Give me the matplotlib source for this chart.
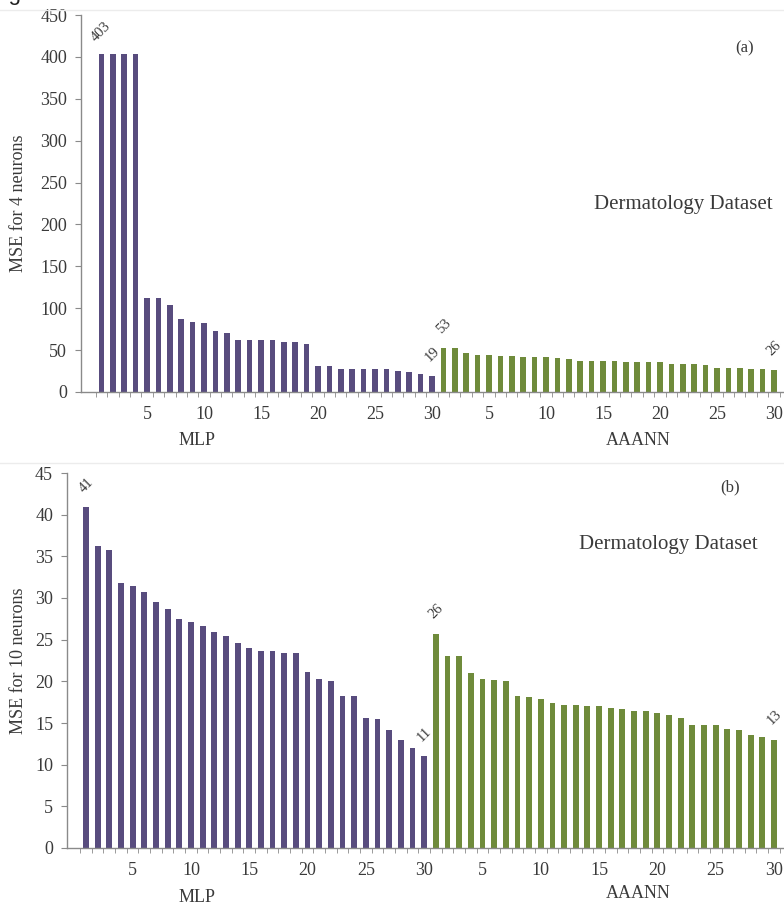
import matplotlib
matplotlib.use("Agg")
import matplotlib.pyplot as plt
from matplotlib.lines import Line2D

# MSE values (30 MLP runs followed by 30 AAANN runs)
mlp_4 = [403, 403, 403, 403, 112, 112, 104, 87, 84, 82,
         72.5, 70.5, 62, 62, 62, 62, 60, 60, 57, 31,
         31, 28, 28, 28, 28, 27.5, 25, 24, 21.5, 19]
aaann_4 = [52, 52, 47, 44, 44, 43, 43, 42, 42, 42,
           40, 39.4, 37.5, 37.5, 37, 36.5, 36, 35.8, 35.5, 35.5,
           34, 34, 33.5, 32.7, 29, 28.5, 28.5, 28, 27, 26]
mlp_10 = [40.9, 36.3, 35.8, 31.8, 31.5, 30.7, 29.5, 28.7, 27.5, 27.1,
          26.7, 25.9, 25.4, 24.6, 24.0, 23.7, 23.7, 23.4, 23.4, 21.1,
          20.3, 20.1, 18.3, 18.2, 15.6, 15.5, 14.2, 13.0, 12.0, 11.0]
aaann_10 = [25.7, 23.0, 23.0, 21.0, 20.3, 20.2, 20.0, 18.3, 18.1, 17.9,
            17.4, 17.2, 17.2, 17.1, 17.0, 16.8, 16.7, 16.5, 16.4, 16.2,
            16.0, 15.6, 14.8, 14.8, 14.8, 14.3, 14.2, 13.6, 13.3, 13.0]

tick_pos = [5, 10, 15, 20, 25, 30, 35, 40, 45, 50, 55, 60]
tick_text = ['5', '10', '15', '20', '25', '30', '5', '10', '15', '20', '25', '30']

note_idx = [0, 29, 30, 59]
notes_4 = ['403', '19', '53', '26']
notes_10 = ['41', '11', '26', '13']

purple = '#584c7e'
green = '#6f8b3b'
text_col = '#3a3a3a'
axis_col = '#8a8a8a'

plt.rcParams['font.family'] = ['Liberation Serif', 'DejaVu Serif']
plt.rcParams['text.color'] = text_col


def draw_panel(ax, mlp, aaann, notes, ylim, ystep, ylabel, xlim):
    n = len(mlp)
    xs_mlp = list(range(1, n + 1))
    xs_aaann = list(range(n + 1, 2 * n + 1))
    ax.bar(xs_mlp, mlp, width=0.5, color=purple)
    ax.bar(xs_aaann, aaann, width=0.5, color=green)

    values = mlp + aaann
    for i, txt in zip(note_idx, notes):
        ax.annotate(txt, xy=(i + 1, values[i]), xytext=(0, 16),
                    textcoords='offset points', rotation=45,
                    ha='center', va='center', fontsize=10.5, color=text_col)

    ax.set_xlim(*xlim)
    ax.set_ylim(0, ylim)
    ax.set_yticks([ystep * k for k in range(int(ylim / ystep) + 1)])
    ax.set_xticks(tick_pos)
    ax.set_xticklabels(tick_text)
    ax.set_xticks([k + 0.5 for k in range(0, 2 * n + 1)], minor=True)
    ax.tick_params(axis='x', which='major', length=0, pad=10,
                   labelsize=13, labelcolor=text_col)
    ax.tick_params(axis='x', which='minor', length=3.5, color=axis_col,
                   direction='out')
    ax.tick_params(axis='y', length=4, color=axis_col, pad=6,
                   labelsize=13, labelcolor=text_col)

    for side in ['top', 'right']:
        ax.spines[side].set_visible(False)
    for side in ['left', 'bottom']:
        ax.spines[side].set_color(axis_col)
        ax.spines[side].set_linewidth(1.0)

    ax.set_ylabel(ylabel, fontsize=13, color=text_col)
    ax.patch.set_alpha(0)


fig = plt.figure(figsize=(7.84, 9.06), dpi=100)
W, H = 784.0, 906.0

ax1 = fig.add_axes([81 / W, 1 - 392 / H, (W - 81) / W, (392 - 15) / H])
draw_panel(ax1, mlp_4, aaann_4, notes_4, 450, 50,
           'MSE for 4 neurons', (-0.79, 60.88))
ax1.yaxis.set_label_coords(-0.077, 0.5)

ax2 = fig.add_axes([67 / W, 1 - 848 / H, (W - 67) / W, (848 - 473) / H])
draw_panel(ax2, mlp_10, aaann_10, notes_10, 45, 5,
           'MSE for 10 neurons', (-0.63, 60.86))
ax2.yaxis.set_label_coords(-0.056, 0.5)

# panel texts, placed in figure pixels
fig.text(745 / W, 1 - 48 / H, '(a)', fontsize=12, ha='center', va='center')
fig.text(730 / W, 1 - 487 / H, '(b)', fontsize=12, ha='center', va='center')
fig.text(683 / W, 1 - 205 / H, 'Dermatology Dataset', fontsize=15,
         ha='center', va='center')
fig.text(668 / W, 1 - 545 / H, 'Dermatology Dataset', fontsize=15,
         ha='center', va='center')
fig.text(197 / W, 1 - 441 / H, 'MLP', fontsize=13, ha='center', va='center')
fig.text(638 / W, 1 - 441 / H, 'AAANN', fontsize=13, ha='center', va='center')
fig.text(197 / W, 1 - 898 / H, 'MLP', fontsize=13, ha='center', va='center')
fig.text(638 / W, 1 - 894 / H, 'AAANN', fontsize=13, ha='center', va='center')

# remains of the cropped caption and page border lines
fig.text(-0.012, 1.0, 'Fig', fontsize=16, ha='left', va='baseline',
         family=['Liberation Sans', 'DejaVu Sans'], color='#222222')
fig.add_artist(Line2D([0, 1], [1 - 10 / H, 1 - 10 / H], color='#ececec', lw=1))
fig.add_artist(Line2D([0, 1], [1 - 463 / H, 1 - 463 / H], color='#ececec', lw=1))

fig.savefig('out.png', dpi=100)
